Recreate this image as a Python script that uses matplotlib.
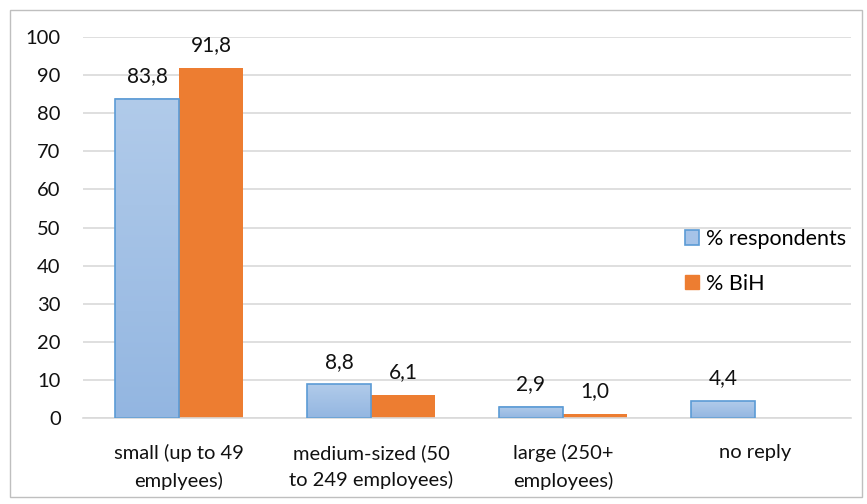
import numpy as np
import matplotlib
matplotlib.use('Agg')
import matplotlib.pyplot as plt
from matplotlib.patches import Rectangle, Patch
from matplotlib.colors import LinearSegmentedColormap

plt.rcParams['font.family'] = ['Lato', 'DejaVu Sans']

categories = ['small (up to 49\nemplyees)', 'medium-sized (50\nto 249 employees)',
              'large (250+\nemployees)', 'no reply']
respondents = [83.8, 8.8, 2.9, 4.4]
bih = [91.8, 6.1, 1.0, None]
series_names = ['% respondents', '% BiH']

blue_edge = '#5b9bd5'
orange = '#ed7d31'
grid_col = '#d9d9d9'
txt = '#111111'
blue_grad = LinearSegmentedColormap.from_list('bluegrad', ['#93b6e1', '#b1cbea'])

fig = plt.figure(figsize=(8.67, 5.04), dpi=100)
ax = fig.add_axes([0.0957, 0.1706, 0.8858, 0.756])

x = np.arange(len(categories))
w = 1 / 3

# blue bars with vertical gradient fill
grad = np.linspace(0, 1, 256).reshape(-1, 1)
for xi, v in zip(x, respondents):
    x0 = xi - w
    ax.imshow(grad, extent=[x0, xi, 0, v], origin='lower', cmap=blue_grad,
              aspect='auto', zorder=2)
    ax.add_patch(Rectangle((x0, 0), w, v, fill=False, edgecolor=blue_edge,
                           linewidth=1.2, zorder=3))
    ax.text(xi - w / 2, v + 6, f'{v:.1f}'.replace('.', ','), ha='center',
            va='center', fontsize=15, color=txt)

for xi, v in zip(x, bih):
    if v is None:
        continue
    ax.bar(xi, v, width=w, align='edge', color=orange, zorder=2)
    ax.text(xi + w / 2, v + 6, f'{v:.1f}'.replace('.', ','), ha='center',
            va='center', fontsize=15, color=txt)

ax.set_xlim(-0.5, len(categories) - 0.5)
ax.set_ylim(0, 100)
ax.set_yticks(np.arange(0, 101, 10))
ax.set_xticks(x)
ax.set_xticklabels(categories, fontsize=14.5, color=txt, linespacing=1.6)
ax.tick_params(axis='y', labelsize=14.5, colors=txt, length=0, pad=16)
ax.tick_params(axis='x', length=0, pad=19)
ax.grid(axis='y', color=grid_col, linewidth=1.2, zorder=0)
ax.set_axisbelow(True)
for s in ['top', 'right', 'left']:
    ax.spines[s].set_visible(False)
ax.spines['bottom'].set_color(grid_col)
ax.spines['bottom'].set_linewidth(1.2)

handles = [Patch(facecolor='#a6c3e8', edgecolor=blue_edge, linewidth=1.2),
           Patch(facecolor=orange, edgecolor=orange)]
fig.legend(handles, series_names, loc='upper left', bbox_to_anchor=(0.778, 0.567),
           frameon=False, fontsize=15.5, handlelength=0.65, handleheight=0.65,
           handletextpad=0.3, labelspacing=1.15, borderpad=0)

fig.patches.append(Rectangle((10 / 867, 7 / 504), 852 / 867, 487 / 504,
                             transform=fig.transFigure, fill=False,
                             edgecolor='#bfbfbf', linewidth=1))

fig.savefig('out.png', dpi=100)
